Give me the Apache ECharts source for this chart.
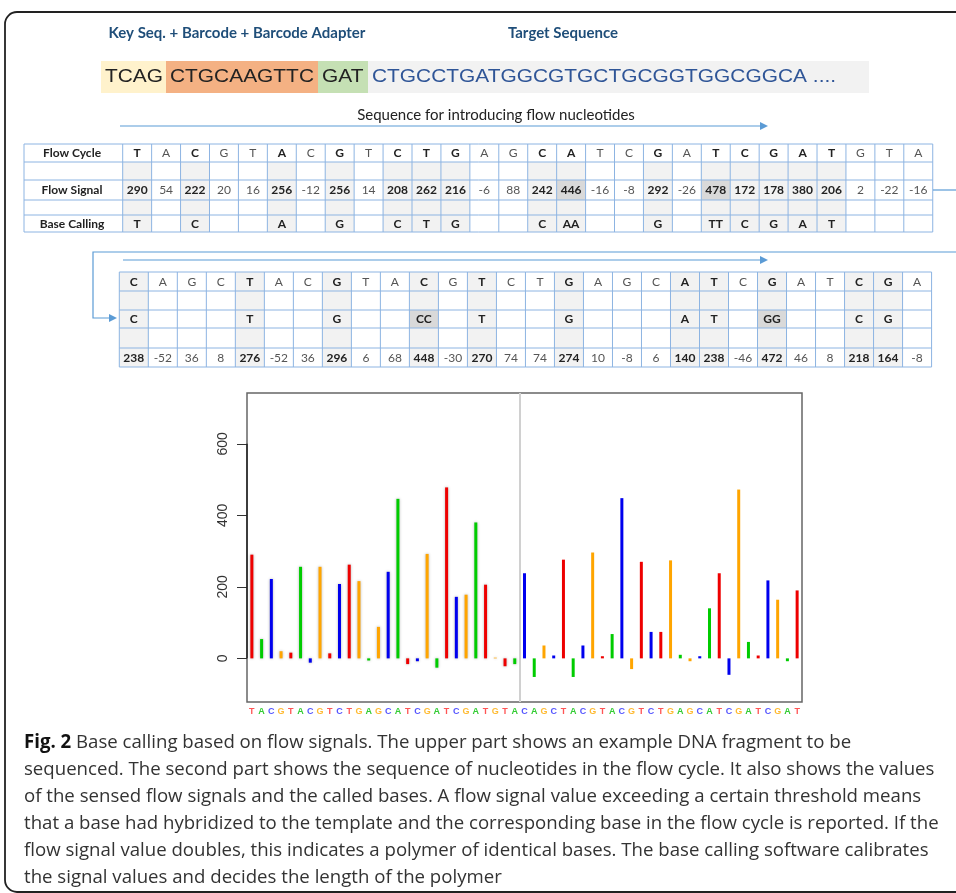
<!DOCTYPE html>
<html>
<head>
<meta charset="utf-8">
<script src="https://cdn.jsdelivr.net/npm/echarts@6/dist/echarts.min.js"></script>
<style>html,body{margin:0;padding:0;background:#fff}#main{width:956px;height:893px}</style>
</head>
<body>
<div id="main"></div>
<script>
// flow cycle, first table row block
var flowCycle1 = ['T','A','C','G','T','A','C','G','T','C','T','G','A','G','C','A','T','C','G','A','T','C','G','A','T','G','T','A'];
var flowSignal1 = [290,54,222,20,16,256,-12,256,14,208,262,216,-6,88,242,446,-16,-8,292,-26,478,172,178,380,206,2,-22,-16];
var baseCall1 = ['T','','C','','','A','','G','','C','T','G','','','C','AA','','','G','','TT','C','G','A','T','','',''];
// second table
var flowCycle2 = ['C','A','G','C','T','A','C','G','T','A','C','G','T','C','T','G','A','G','C','A','T','C','G','A','T','C','G','A'];
var flowSignal2 = [238,-52,36,8,276,-52,36,296,6,68,448,-30,270,74,74,274,10,-8,6,140,238,-46,472,46,8,218,164,-8];
var baseCall2 = ['C','','','','T','','','G','','','CC','','T','','','G','','','','A','T','','GG','','','C','G',''];
// last flow only shown in the plot
var extraFlow = ['T'];
var extraSignal = [190];
var yTickValues = [0, 200, 400, 600];
var rowLabels1 = ['Flow Cycle', '', 'Flow Signal', '', 'Base Calling'];
var seqParts = ['TCAG', 'CTGCAAGTTC', 'GAT', 'CTGCCTGATGGCGTGCTGCGGTGGCGGCA ....'];
var captionLines = [
    '{b|Fig. 2} Base calling based on flow signals. The upper part shows an example DNA fragment to be',
    'sequenced. The second part shows the sequence of nucleotides in the flow cycle. It also shows the values',
    'of the sensed flow signals and the called bases. A flow signal value exceeding a certain threshold means',
    'that a base had hybridized to the template and the corresponding base in the flow cycle is reported. If the',
    'flow signal value doubles, this indicates a polymer of identical bases. The base calling software calibrates',
    'the signal values and decides the length of the polymer'
];

var barColor = {T: '#ee0000', A: '#00cc00', C: '#0000ee', G: '#ffa500'};
var labelColor = {T: '#ff5555', A: '#33cc33', C: '#5555ff', G: '#ffbb33'};
var lineBlue = '#8db4e2';
var arrowBlue = '#5b9bd5';
var tableFont = 'Lato';

var plotBases = flowCycle1.concat(flowCycle2, extraFlow);
var plotSignal = flowSignal1.concat(flowSignal2, extraSignal);

var chart = echarts.init(document.getElementById('main'));
var g = [];

// frame
g.push({type: 'rect', z: 1, shape: {x: 5, y: 12, width: 1000, height: 880, r: 12},
    style: {fill: 'none', stroke: '#222', lineWidth: 1.8}});

// header
g.push({type: 'text', z: 5, x: 237, y: 33, style: {text: 'Key Seq. + Barcode + Barcode Adapter',
    font: 'bold 15px Lato', fill: '#1f4e79', align: 'center', verticalAlign: 'middle'}});
g.push({type: 'text', z: 5, x: 563, y: 33, style: {text: 'Target Sequence',
    font: 'bold 15px Lato', fill: '#1f4e79', align: 'center', verticalAlign: 'middle'}});

var segBox = [[101, 166, '#fff2cc'], [166, 318, '#f4b183'], [318, 368, '#c5e0b4'], [368, 869, '#f2f2f2']];
for (var s = 0; s < seqParts.length; s++) {
    g.push({type: 'rect', z: 2, shape: {x: segBox[s][0], y: 61, width: segBox[s][1] - segBox[s][0], height: 32},
        style: {fill: segBox[s][2]}});
    g.push({type: 'text', z: 5, x: segBox[s][0] + 4, y: 77, scaleX: 1.1, style: {text: seqParts[s],
        font: '19px "Liberation Sans"', fill: s < 3 ? '#222' : '#2f5597', align: 'left', verticalAlign: 'middle'}});
}

function arrow(x1, x2, y) {
    g.push({type: 'line', z: 4, shape: {x1: x1, y1: y, x2: x2 - 6, y2: y}, style: {stroke: arrowBlue, lineWidth: 1.2}});
    g.push({type: 'polygon', z: 4, shape: {points: [[x2 - 8, y - 4], [x2, y], [x2 - 8, y + 4]]}, style: {fill: arrowBlue}});
}

g.push({type: 'text', z: 5, x: 496, y: 115, style: {text: 'Sequence for introducing flow nucleotides',
    font: '15px Lato', fill: '#222', align: 'center', verticalAlign: 'middle'}});
arrow(120, 768, 126);

// generic table drawer
function drawTable(x0, colW, rowYs, rows, boldCols, darkRow, shadeFrom, labelX) {
    var nCol = rows[0].length;
    var xEnd = x0 + nCol * colW;
    var xStart = labelX != null ? labelX : x0;
    for (var c = 0; c < nCol; c++) {
        var cx = x0 + c * colW;
        for (var r = 0; r < rowYs.length - 1; r++) {
            var fill = null;
            if (boldCols[c] && r >= shadeFrom) fill = '#f2f2f2';
            if (r === darkRow && boldCols[c] && boldCols[c].length > 1) fill = '#d9d9d9';
            if (fill) {
                g.push({type: 'rect', z: 2, shape: {x: cx, y: rowYs[r], width: colW, height: rowYs[r + 1] - rowYs[r]},
                    style: {fill: fill}});
            }
            var txt = rows[r][c];
            if (txt !== '' && txt != null) {
                g.push({type: 'text', z: 5, x: cx + colW / 2, y: (rowYs[r] + rowYs[r + 1]) / 2 + 0.5, style: {
                    text: String(txt), font: (boldCols[c] ? 'bold ' : '') + '12px ' + tableFont,
                    fill: boldCols[c] ? '#222' : '#555', align: 'center', verticalAlign: 'middle'}});
            }
        }
    }
    for (var r2 = 0; r2 < rowYs.length; r2++) {
        g.push({type: 'line', z: 3, shape: {x1: xStart, y1: rowYs[r2], x2: xEnd, y2: rowYs[r2]},
            style: {stroke: lineBlue, lineWidth: 1}});
    }
    var vx = [];
    if (labelX != null) vx.push(labelX);
    for (var c2 = 0; c2 <= nCol; c2++) vx.push(x0 + c2 * colW);
    vx.forEach(function (x) {
        g.push({type: 'line', z: 3, shape: {x1: x, y1: rowYs[0], x2: x, y2: rowYs[rowYs.length - 1]},
            style: {stroke: lineBlue, lineWidth: 1}});
    });
}

var blank1 = flowCycle1.map(function () { return ''; });
var blank2 = flowCycle2.map(function () { return ''; });
var rows1Y = [144, 162, 180, 200, 215, 232];
drawTable(122.7, 28.93, rows1Y, [flowCycle1, blank1, flowSignal1, blank1, baseCall1], baseCall1, 2, 1, 24);
rowLabels1.forEach(function (lab, r) {
    if (!lab) return;
    g.push({type: 'text', z: 5, x: 72, y: (rows1Y[r] + rows1Y[r + 1]) / 2 + 0.5, style: {text: lab,
        font: 'bold 12px ' + tableFont, fill: '#222', align: 'center', verticalAlign: 'middle'}});
});

var rows2Y = [272, 291, 310, 328, 348, 367];
drawTable(119.3, 29.01, rows2Y, [flowCycle2, blank2, baseCall2, blank2, flowSignal2], baseCall2, 2, 0, null);

// connector between the two tables
g.push({type: 'polyline', z: 4, shape: {points: [[933, 190], [960, 190]]}, style: {stroke: arrowBlue, lineWidth: 1.2, fill: null}});
g.push({type: 'polyline', z: 4, shape: {points: [[960, 252], [93, 252], [93, 318], [110, 318]]},
    style: {stroke: arrowBlue, lineWidth: 1.2, fill: null}});
g.push({type: 'polygon', z: 4, shape: {points: [[109, 314], [117, 318], [109, 322]]}, style: {fill: arrowBlue}});
arrow(123, 768, 260);

// caption
captionLines.forEach(function (line, i) {
    g.push({type: 'text', z: 5, x: 24, y: 743 + i * 27, scaleX: 0.98, style: {text: line,
        font: '19px "Open Sans"', fill: '#333', align: 'left', verticalAlign: 'middle',
        rich: {b: {font: 'bold 19px "Open Sans"', fill: '#111'}}}});
});

var barData = plotSignal.map(function (v, i) {
    var st = {color: barColor[plotBases[i]]};
    if (i < flowSignal1.length) {
        st.shadowBlur = 3;
        st.shadowColor = 'rgba(0,0,0,0.3)';
    }
    return {value: v, itemStyle: st};
});

var option = {
    animation: false,
    backgroundColor: '#fff',
    grid: {left: 247, top: 393, width: 555, height: 309, show: true, borderColor: '#666', borderWidth: 1.5,
        containLabel: false, outerBoundsMode: 'none'},
    xAxis: [{
        type: 'category',
        data: plotBases,
        axisLine: {show: false},
        axisTick: {show: false},
        axisLabel: {
            interval: 0, margin: 5, fontSize: 9, fontWeight: 'bold', fontFamily: 'Liberation Sans',
            color: function (val) { return labelColor[val]; }
        }
    }, {
        type: 'value', min: 0, max: plotBases.length, show: false
    }],
    yAxis: {
        type: 'value', min: -122, max: 742,
        splitLine: {show: false},
        axisLine: {show: false},
        axisTick: {show: true, length: 10, customValues: yTickValues, lineStyle: {color: '#333'}},
        axisLabel: {rotate: 90, margin: 17, fontSize: 14, color: '#333', fontFamily: 'Liberation Sans',
            customValues: yTickValues}
    },
    graphic: g,
    series: [{
        type: 'bar',
        data: barData,
        barWidth: 3
    }, {
        type: 'scatter',
        xAxisIndex: 1,
        data: [],
        markLine: {
            silent: true, symbol: ['none', 'none'], label: {show: false},
            data: [
                [{coord: [flowSignal1.length, -122], lineStyle: {color: '#d0d0d0', width: 2, type: 'solid'}},
                 {coord: [flowSignal1.length, 742]}],
                [{coord: [0, 0], lineStyle: {color: '#222', width: 1.5, type: 'solid'}},
                 {coord: [0, 600]}]
            ]
        }
    }]
};
chart.setOption(option);
</script>
</body>
</html>
